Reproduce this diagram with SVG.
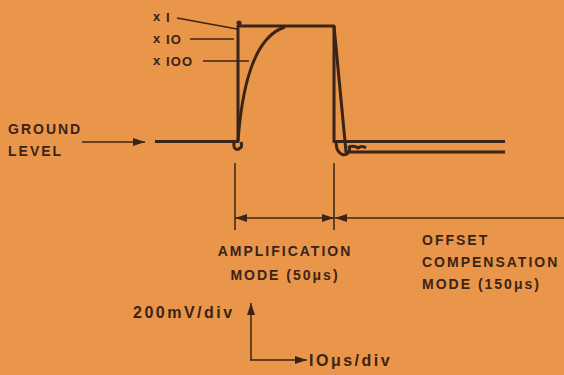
<svg xmlns="http://www.w3.org/2000/svg" width="564" height="375" viewBox="0 0 564 375">
<defs>
<marker id="ahb" viewBox="0 0 12 10" refX="12" refY="5" markerWidth="12" markerHeight="10" markerUnits="userSpaceOnUse" orient="auto-start-reverse"><path d="M0,1 L12,5 L0,9 Z" fill="#3a2418"/></marker>
</defs>
<style>
.t{font-family:"Liberation Sans",Arial,sans-serif;font-weight:bold;font-size:14px;fill:#3a2418;letter-spacing:2px}
.s{font-size:13px;letter-spacing:1.2px}
.a{font-size:16px;letter-spacing:2.5px}
.ln{stroke:#3a2418;fill:none;stroke-width:1.5}
.tr{stroke:#3a2418;fill:none;stroke-width:3;stroke-linejoin:round}
</style>
<rect width="564" height="375" fill="#E9954A"/>
<g id="trace">
<path class="tr" d="M155,141.5 H238 V26 H334 V141.5 H505"/>
<path class="tr" d="M238,141 C241,100 250,38 285,27"/>
<path class="tr" d="M334,26 L346,152 H505"/>
<path class="tr" d="M234,142 Q233,151 239,149 Q243,147 241,142" stroke-width="2.5"/>
<path class="tr" d="M336,143 L337,149 Q341,157 347,154 Q351,150 349,147 Q354,145 358,148 Q362,145 366,148" stroke-width="2.5"/>
<circle cx="239" cy="23" r="2.5" fill="#3a2418"/>
</g>
<g id="labels">
<text class="t s" x="153" y="21">x</text><text class="t s" x="166" y="22">I</text>
<text class="t s" x="153" y="43">x</text><text class="t s" x="166" y="44">IO</text>
<text class="t s" x="153" y="65">x</text><text class="t s" x="166" y="66">IOO</text>
<path class="ln" d="M177,18 L237,29 M190,39 H234 M203,61 H249"/>
</g>
<g id="ground">
<text class="t" x="8" y="134">GROUND</text>
<text class="t" x="8" y="156">LEVEL</text>
<line class="ln" x1="82" y1="142" x2="145" y2="142" marker-end="url(#ahb)"/>
</g>
<g id="connectors">
<path class="ln" d="M235,163 V230 M334,163 V230"/>
<line class="ln" x1="235" y1="218" x2="334" y2="218" marker-start="url(#ahb)" marker-end="url(#ahb)"/>
<line class="ln" x1="564" y1="218" x2="335" y2="218" marker-end="url(#ahb)"/>
</g>
<g id="amp">
<text class="t" x="285" y="256" text-anchor="middle">AMPLIFICATION</text>
<text class="t" x="285" y="280" text-anchor="middle">MODE (50μs)</text>
</g>
<g id="offset">
<text class="t" x="422" y="245">OFFSET</text>
<text class="t" x="422" y="267">COMPENSATION</text>
<text class="t" x="422" y="289">MODE (150μs)</text>
</g>
<g id="axes">
<path class="ln" d="M251,360 V303" stroke-width="2.2" marker-end="url(#ahb)"/>
<path class="ln" d="M250,360 H307" stroke-width="2.2" marker-end="url(#ahb)"/>
<text class="t a" x="133" y="318">200mV/div</text>
<text class="t a" x="309" y="366">IOμs/div</text>
</g>
</svg>
